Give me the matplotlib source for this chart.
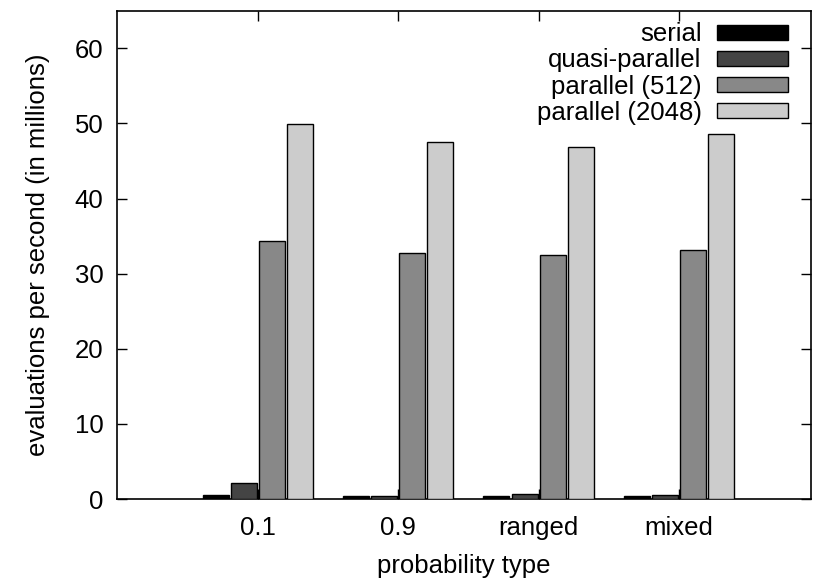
import numpy as np
import matplotlib
matplotlib.use("Agg")
import matplotlib.pyplot as plt

plt.rcParams['font.family'] = ['Liberation Sans', 'DejaVu Sans']

# data (millions of evaluations per second)
categories = ['0.1', '0.9', 'ranged', 'mixed']
series = ['serial', 'quasi-parallel', 'parallel (512)', 'parallel (2048)']
serial = [0.53, 0.40, 0.40, 0.40]
quasi_parallel = [2.1, 0.35, 0.67, 0.57]
parallel_512 = [34.3, 32.7, 32.5, 33.2]
parallel_2048 = [49.9, 47.5, 46.8, 48.6]
values = [serial, quasi_parallel, parallel_512, parallel_2048]
colors = ['#000000', '#444444', '#888888', '#cccccc']

fs = 18.5

fig = plt.figure(figsize=(8.13, 5.85), dpi=100)
ax = fig.add_axes([0.1443, 0.147, 0.8532, 0.8347])

x = np.arange(len(categories))
pitch = 0.2
for i, (name, vals) in enumerate(zip(series, values)):
    offs = (i - 1.5) * pitch
    ax.bar(x + offs, vals, width=0.185, color=colors[i], edgecolor='black',
           linewidth=1.0, label=name, zorder=3)

ax.set_xlim(-1.0, 3.94)
ax.set_ylim(0, 65)
ax.set_yticks(range(0, 61, 10))
ax.set_xticks(x)
ax.set_xticklabels(categories)
ax.tick_params(direction='in', length=7, width=1, labelsize=fs,
               top=True, right=True)
ax.tick_params(axis='y', pad=10)
ax.tick_params(axis='x', pad=12)
for s in ax.spines.values():
    s.set_linewidth(1.2)

ax.set_ylabel('evaluations per second (in millions)', fontsize=fs, labelpad=18)
ax.set_xlabel('probability type', fontsize=fs, labelpad=10)

ax.legend(loc='upper right', bbox_to_anchor=(0.967, 0.976), frameon=False,
          markerfirst=False, fontsize=fs, handlelength=2.76, handleheight=0.5,
          labelspacing=0.08, handletextpad=0.6, borderaxespad=0, borderpad=0)

fig.savefig('out.png', dpi=100)
